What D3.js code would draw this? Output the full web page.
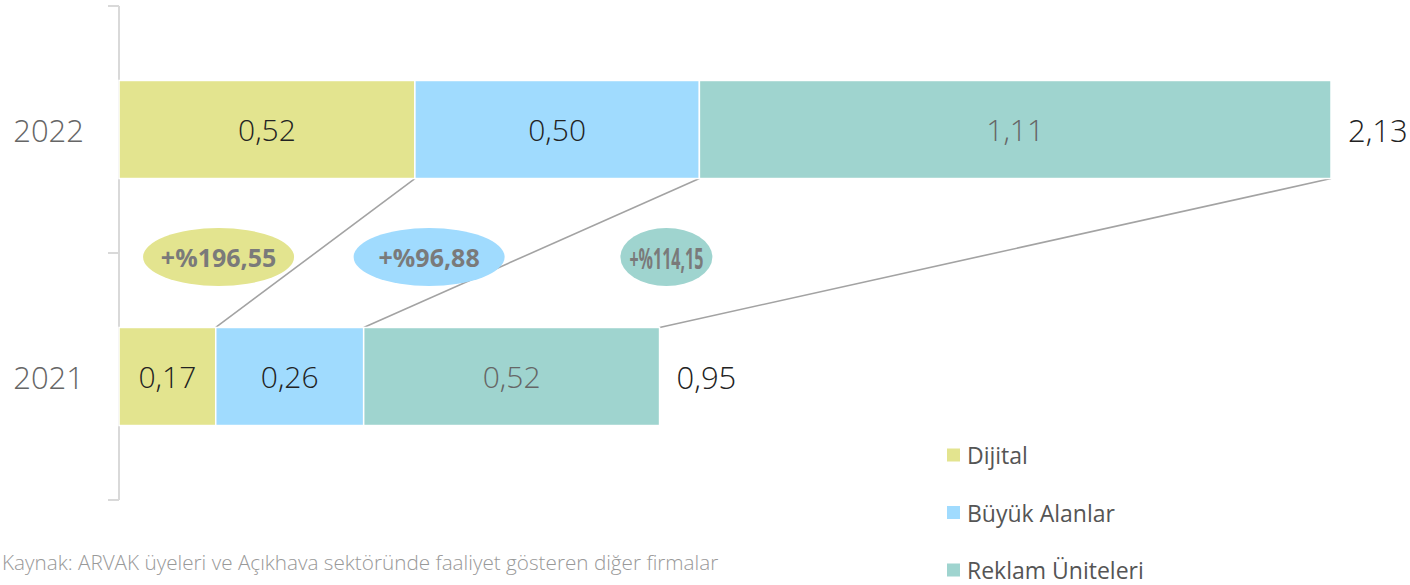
<!DOCTYPE html>
<html>
<head>
<meta charset="utf-8">
<script src="https://cdn.jsdelivr.net/npm/d3@7"></script>
<style>
  body { margin: 0; background: #fff; }
  svg { display: block; font-family: "Open Sans", sans-serif; }
</style>
</head>
<body>
<svg id="chart" width="1410" height="585"></svg>
<script>
// data
var years = ["2022", "2021"];
var series = ["Dijital", "Büyük Alanlar", "Reklam Üniteleri"];
var values2022 = [0.52, 0.50, 1.11];
var values2021 = [0.17, 0.26, 0.52];
var totals = [2.13, 0.95];
var changes = ["+%196,55", "+%96,88", "+%114,15"];
var badgeAt = [0.175, 0.545, 0.962]; // badge centres, in chart units
var source = "Kaynak: ARVAK üyeleri ve Açıkhava sektöründe faaliyet gösteren diğer firmalar";

var colors = ["#e3e48f", "#a0dbfe", "#9fd4cf"];
var valueColors = ["#222", "#222", "#666"];

var fmt = function(v) { return d3.format(".2f")(v).replace(".", ","); };

var svg = d3.select("#chart");

var x = d3.scaleLinear().domain([0, 2.13]).range([119, 1331]);
var y = d3.scaleBand().domain(years).range([6, 500])
  .paddingInner(0.603).paddingOuter(0.3015);

// stack values per year
var rows = [values2022, values2021].map(function(vals, i) {
  var acc = 0;
  return vals.map(function(v, j) {
    var d = { year: years[i], key: j, value: v, x0: acc, x1: acc + v };
    acc += v;
    return d;
  });
});

// axis line with ticks at band edges
var edges = [y.range()[0], (y(years[0]) + y.bandwidth() + y(years[1])) / 2, y.range()[1]];
var axis = svg.append("g").attr("stroke", "#d9d9d9").attr("stroke-width", 2).attr("fill", "none");
axis.append("line").attr("x1", x(0)).attr("x2", x(0)).attr("y1", edges[0]).attr("y2", edges[2]);
axis.selectAll("line.tick").data(edges).enter().append("line")
  .attr("class", "tick")
  .attr("x1", x(0) - 11).attr("x2", x(0))
  .attr("y1", function(d) { return d; }).attr("y2", function(d) { return d; });

// year labels
svg.selectAll("text.year").data(years).enter().append("text")
  .attr("class", "year")
  .attr("x", 84).attr("y", function(d) { return y(d) + y.bandwidth() / 2; })
  .attr("text-anchor", "end").attr("dominant-baseline", "central")
  .attr("font-size", 31).attr("font-weight", 300).attr("fill", "#666")
  .text(function(d) { return d; });

// connectors
var conn = svg.append("g").attr("stroke", "#a3a3a3").attr("stroke-width", 1.6);
for (var j = 0; j < series.length; j++) {
  conn.append("line")
    .attr("x1", x(rows[0][j].x1)).attr("y1", y(years[0]) + y.bandwidth())
    .attr("x2", x(rows[1][j].x1)).attr("y2", y(years[1]));
}

// bars
rows.forEach(function(row) {
  var g = svg.append("g");
  g.selectAll("rect").data(row).enter().append("rect")
    .attr("x", function(d) { return x(d.x0); })
    .attr("y", function(d) { return y(d.year); })
    .attr("width", function(d) { return x(d.x1) - x(d.x0); })
    .attr("height", y.bandwidth())
    .attr("fill", function(d) { return colors[d.key]; })
    .attr("stroke", "#fff").attr("stroke-width", 1.5);
  g.selectAll("text").data(row).enter().append("text")
    .attr("x", function(d) { return (x(d.x0) + x(d.x1)) / 2; })
    .attr("y", function(d) { return y(d.year) + y.bandwidth() / 2; })
    .attr("text-anchor", "middle").attr("dominant-baseline", "central")
    .attr("font-size", 30).attr("font-weight", 300)
    .attr("fill", function(d) { return valueColors[d.key]; })
    .text(function(d) { return fmt(d.value); });
});

// totals
svg.selectAll("text.total").data(totals).enter().append("text")
  .attr("class", "total")
  .attr("x", function(d) { return x(d) + 17; })
  .attr("y", function(d, i) { return y(years[i]) + y.bandwidth() / 2; })
  .attr("dominant-baseline", "central")
  .attr("font-size", 31).attr("font-weight", 300).attr("fill", "#222")
  .text(function(d) { return fmt(d); });

// change badges
var midY = edges[1] + 4;
var badge = svg.selectAll("g.badge").data(changes).enter().append("g")
  .attr("class", "badge")
  .attr("transform", function(d, i) { return "translate(" + x(badgeAt[i]) + "," + midY + ")"; });
badge.append("ellipse")
  .attr("rx", function(d, i) { return i == 2 ? 46 : 75.5; })
  .attr("ry", 29)
  .attr("fill", function(d, i) { return colors[i]; });
badge.append("text")
  .attr("text-anchor", "middle").attr("dominant-baseline", "central")
  .attr("font-size", function(d, i) { return i == 2 ? 29 : 25; })
  .attr("font-weight", 700).attr("fill", "#7a7a7a")
  .each(function(d, i) {
    if (i == 2) d3.select(this).attr("textLength", 74).attr("lengthAdjust", "spacingAndGlyphs");
  })
  .text(function(d) { return d; });

// legend
var legend = svg.selectAll("g.legend").data(series).enter().append("g")
  .attr("class", "legend")
  .attr("transform", function(d, i) { return "translate(947," + (455 + i * 57.5) + ")"; });
legend.append("rect")
  .attr("x", 0).attr("y", -6.5).attr("width", 13).attr("height", 13)
  .attr("fill", function(d, i) { return colors[i]; });
legend.append("text")
  .attr("x", 20).attr("dominant-baseline", "central")
  .attr("font-size", 23).attr("fill", "#555")
  .text(function(d) { return d; });

// source
svg.append("text")
  .attr("x", 2).attr("y", 562)
  .attr("dominant-baseline", "central")
  .attr("font-size", 20.7).attr("font-weight", 300).attr("fill", "#999")
  .text(source);
</script>
</body>
</html>
